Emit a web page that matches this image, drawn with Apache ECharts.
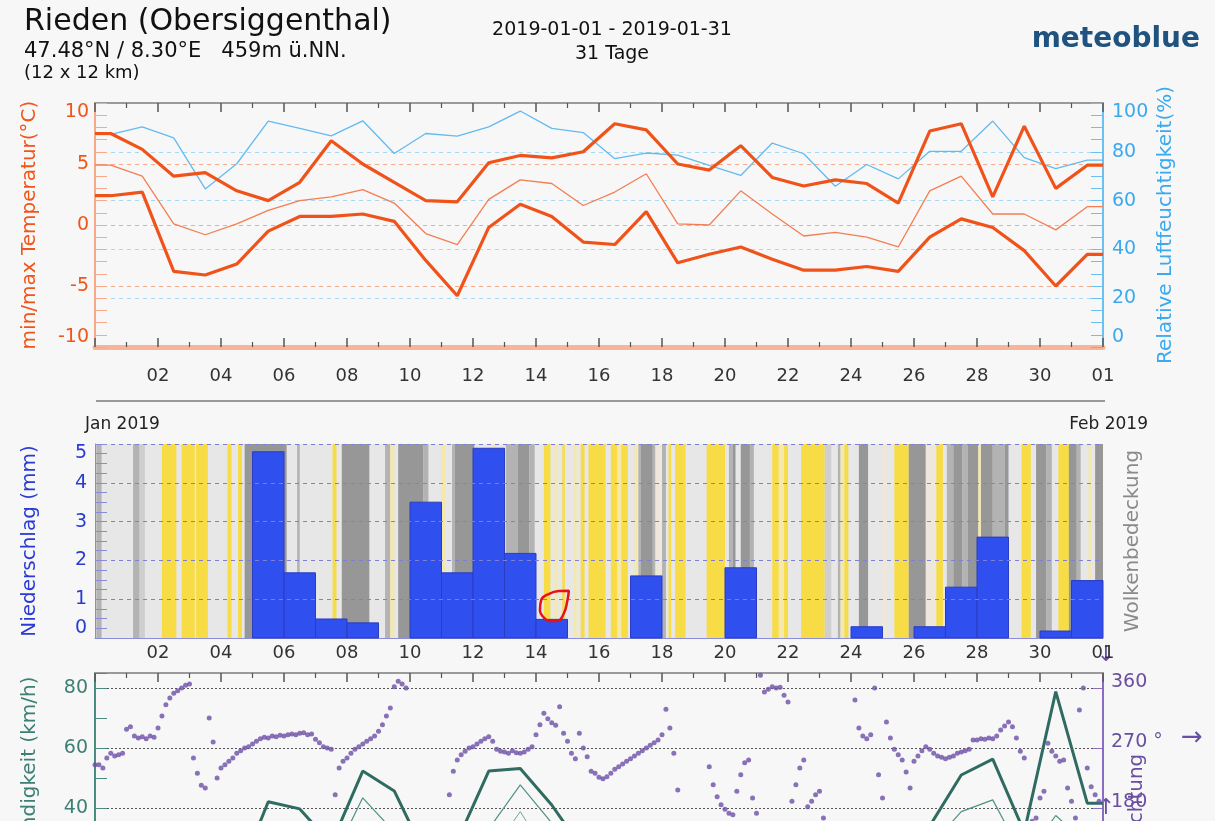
<!DOCTYPE html>
<html><head><meta charset="utf-8">
<script src="https://cdn.jsdelivr.net/npm/echarts@6/dist/echarts.min.js"></script>
<style>html,body{margin:0;padding:0;background:#f7f7f7;} #c{width:1215px;height:821px;}</style>
</head><body><div id="c"></div>
<script>
// ---- data (daily values at noon, 2018-12-31 .. 2019-01-31) ----
const dates = ['2018-12-31','2019-01-01','2019-01-02','2019-01-03','2019-01-04','2019-01-05','2019-01-06','2019-01-07','2019-01-08','2019-01-09','2019-01-10','2019-01-11','2019-01-12','2019-01-13','2019-01-14','2019-01-15','2019-01-16','2019-01-17','2019-01-18','2019-01-19','2019-01-20','2019-01-21','2019-01-22','2019-01-23','2019-01-24','2019-01-25','2019-01-26','2019-01-27','2019-01-28','2019-01-29','2019-01-30','2019-01-31'];
const tempMax  = [7.5,6.2,4.0,4.3,2.8,2.0,3.5,6.9,5.0,3.5,2.0,1.9,5.1,5.7,5.5,6.0,8.3,7.8,5.0,4.5,6.5,3.9,3.2,3.7,3.4,1.8,7.7,8.3,2.3,8.1,3.0,4.9];
const tempMean = [4.9,4.0,0.1,-0.8,0.1,1.2,2.0,2.3,2.9,1.8,-0.7,-1.6,2.1,3.7,3.4,1.6,2.7,4.2,0.1,0.0,2.8,0.9,-0.9,-0.6,-1.0,-1.8,2.8,4.0,0.9,0.9,-0.4,1.5];
const tempMin  = [2.4,2.7,-3.8,-4.1,-3.2,-0.5,0.7,0.7,0.9,0.3,-2.9,-5.8,-0.2,1.7,0.7,-1.4,-1.6,1.1,-3.1,-2.4,-1.8,-2.8,-3.7,-3.7,-3.4,-3.8,-1.0,0.5,-0.2,-2.1,-5.0,-2.4];
const humidity = [87.1,90.2,85.7,64.8,75.1,92.6,89.6,86.5,92.7,79.3,87.5,86.4,90.2,96.7,89.6,87.9,77.2,79.5,78.6,74.4,70.3,83.6,79.2,65.9,74.8,68.9,80.2,80.2,92.6,77.6,73.1,76.6];
const windMax  = [22,24,20,18,16,42.1,39.7,28,52.3,45.7,24,29,52.3,53.2,41,26,24,28,22,26,30,24,20,18,22,26,34,51,56.3,32,78.8,41.6];
const windMean = [14,15,12,11,10,28,26,22,43.4,32,16,20,33,47.7,35,18,16,19,14,17,21,16,13,12,15,18,27,38.8,42.7,23,37.5,28];
const windLow  = [8,9,7,6,5,18,16,12,28,22,9,12,24,38.8,22,10,9,11,8,10,13,9,7,7,9,11,18,28,30,14,26,18];
// daily precipitation 2019-01-01 .. 2019-01-31 (mm)
const precip = [0,0,0,0,4.8,1.68,0.49,0.39,0,3.5,1.68,4.89,2.18,0.48,0,0,1.6,0,0,1.81,0,0,0,0.29,0,0.29,1.31,2.6,0,0.18,1.48];
// 3-hourly wind direction (deg), from 2018-12-31 00:00, 8 values per day
const windDir = [
245,245,240,255,262,258,260,262,
298,302,288,285,287,284,288,286,
300,318,335,345,352,356,360,364,
366,255,232,214,210,315,279,225,
240,245,250,255,262,266,270,272,
276,280,284,286,285,288,287,289,
288,290,291,290,292,293,290,291,
283,278,272,270,268,200,240,250,
255,262,268,272,276,280,284,288,
295,305,318,330,362,370,366,360,
140,130,125,120,120,125,130,135,
145,150,200,235,252,260,265,270,
272,276,280,284,287,280,268,265,
264,262,266,263,262,264,268,272,
290,305,322,314,308,304,332,292,
280,262,254,292,270,257,235,232,
226,224,227,232,238,242,246,250,
254,258,262,266,270,274,278,282,
290,328,300,262,207,150,140,135,
130,130,135,140,242,215,197,185,
178,172,170,205,230,248,252,195,
172,379,354,358,362,360,361,349,
339,190,215,240,252,182,190,200,
205,165,140,130,125,125,130,135,
140,342,300,288,284,290,360,230,
195,309,285,268,260,252,234,210,
250,258,266,272,268,262,258,256,
254,256,258,262,264,266,268,282,
282,284,283,285,284,288,297,303,
309,302,285,265,255,150,160,165,
195,205,277,265,258,250,252,210,
190,165,327,360,240,212,200,190];
// cloud cover / sunshine stripes: [start hour, end hour, class] (hours from 2019-01-01 00:00)
const cloudSegments = [
[-23,-19,'M'],[5,10,'M'],[10,14,'m'],[27,38,'Y'],[42,52,'Y'],[53,62,'Y'],[77,80,'Y'],[85,88,'Y'],
[90,122,'D'],[130,132,'M'],[157,160,'Y'],[164,185,'D'],[197,201,'M'],[201,204,'y'],[207,226,'D'],[226,230,'M'],
[240,243,'y'],[248,250,'M'],[250,265,'D'],[280,282,'y'],[289,298,'M'],[298,307,'D'],[307,311,'M'],
[318,323,'Y'],[326,328,'y'],[332,334,'Y'],[341,343,'y'],[346,349,'Y'],[352,365,'Y'],[369,374,'Y'],[374,377,'y'],[377,382,'Y'],[387,389,'y'],
[390,392,'M'],[392,401,'D'],[401,403,'M'],[403,408,'c'],[408,411,'M'],[413,415,'Y'],[418,426,'Y'],[442,456,'Y'],
[459,462,'M'],[462,464,'D'],[468,475,'D'],[475,478,'M'],[492,497,'Y'],[497,501,'y'],[501,504,'Y'],
[514,532,'Y'],[532,537,'m'],[542,544,'M'],[544,547,'y'],[547,550,'Y'],[558,565,'D'],[575,580,'c'],[585,596,'Y'],
[596,609,'D'],[609,617,'c'],[617,622,'Y'],[625,630,'M'],[630,637,'D'],[637,641,'M'],[641,649,'D'],[649,651,'y'],[651,660,'D'],[660,669,'M'],[669,672,'D'],
[682,689,'Y'],[693,701,'D'],[701,705,'M'],[710,718,'Y'],[718,724,'D'],[724,727,'M'],[733,735,'y'],[738,744,'D']];
// hand-drawn red loop annotation around the 14 Jan bar: [hour, mm]
const annotationLoop = [[321,0.44],[315,0.72],[316,0.98],[322,1.14],[330,1.21],[337,1.22],[336,0.98],[333,0.62],[328,0.44],[321,0.44]];

// ---- helpers ----
const T0 = Date.UTC(2019,0,1);
const noonHours = dates.map(d => { const p = d.split('-').map(Number); return (Date.UTC(p[0],p[1]-1,p[2]) - T0)/3600000 + 12; });
const X_MIN = -24, X_MAX = 744;
function daily(vals){
  const pts = noonHours.map((h,i)=>[h, vals[i]]);
  return [[X_MIN, vals[0]], ...pts, [X_MAX, vals[vals.length-1]]];
}
const dirData = windDir.map((v,i)=>[X_MIN + 3*i, v]);
const precipData = precip.map((v,i)=>[24*i, 24*(i+1), v]);
const cloudColors = {Y:'#f8dc45', y:'#f4e8ad', c:'#ede7dc', m:'#cfcfcf', M:'#b3b3b3', D:'#979797'};
const FONT = 'DejaVu Sans';
const fmtDay = v => { const k = Math.round(v/24); if (k === 31) return '01'; return String(k+1).padStart(2,'0'); };

function xAxisBase(gridIndex, position, extra){
  return Object.assign({
    type:'value', gridIndex, position, min:X_MIN, max:X_MAX, interval:48,
    splitLine:{show:false}
  }, extra);
}
const tickStyle = {show:true, inside:true, length:9, lineStyle:{color:'#555', width:1.5}};
const minorStyle = {show:true, splitNumber:2, length:5, lineStyle:{color:'#555', width:1.2}};

const chart = echarts.init(document.getElementById('c'), null, {renderer:'canvas'});
const option = {
  backgroundColor:'#f7f7f7',
  animation:false,
  textStyle:{fontFamily:FONT},
  grid:[
    {left:95, top:103, width:1008, height:244, outerBoundsMode:'none', containLabel:false},
    {left:95, top:444, width:1008, height:194, show:true, backgroundColor:'#e7e7e7', borderWidth:0, outerBoundsMode:'none', containLabel:false},
    {left:95, top:673, width:1008, height:255, outerBoundsMode:'none', containLabel:false}
  ],
  xAxis:[
    xAxisBase(0,'bottom',{
      axisLine:{onZero:false, lineStyle:{color:'#f8b497', width:5}},
      axisTick:tickStyle, minorTick:minorStyle,
      axisLabel:{margin:20, color:'#333', fontSize:18, fontFamily:FONT, showMinLabel:false, formatter:fmtDay}
    }),
    xAxisBase(0,'top',{
      axisLine:{onZero:false, lineStyle:{color:'#9a9a9a', width:2}},
      axisTick:tickStyle, minorTick:minorStyle,
      axisLabel:{show:false}
    }),
    xAxisBase(1,'bottom',{
      axisLine:{onZero:false, lineStyle:{color:'#8c8cdc', width:1}},
      axisTick:{show:false},
      axisLabel:{margin:6, color:'#333', fontSize:18, fontFamily:FONT, showMinLabel:false, formatter:fmtDay}
    }),
    xAxisBase(2,'top',{
      axisLine:{onZero:false, lineStyle:{color:'#9a9a9a', width:2}},
      axisTick:tickStyle, minorTick:minorStyle,
      axisLabel:{show:false}
    })
  ],
  yAxis:[
    {type:'value', gridIndex:0, position:'left', min:-10, max:10, interval:5,
     axisLine:{show:true, onZero:false, lineStyle:{color:'#f7a989', width:2}},
     axisTick:{show:true, inside:true, length:12, lineStyle:{color:'#f7a989'}},
     minorTick:{show:true, splitNumber:5, length:12, lineStyle:{color:'#f7a989'}},
     axisLabel:{color:'#f0561a', fontSize:19, fontFamily:FONT, margin:6, verticalAlignMinLabel:'bottom', verticalAlignMaxLabel:'top'},
     splitLine:{show:true, showMinLine:false, showMaxLine:false, lineStyle:{color:'#f6ab8c', type:[4,4], width:1}},
     name:'min/max Temperatur(°C)', nameLocation:'middle', nameRotate:90, nameGap:55, nameMoveOverlap:false,
     nameTextStyle:{color:'#f0561a', fontSize:20, fontFamily:FONT}},
    {type:'value', gridIndex:0, position:'right', min:0, max:100, interval:20,
     axisLine:{show:true, onZero:false, lineStyle:{color:'#6cc0f0', width:2}},
     axisTick:{show:true, inside:true, length:12, lineStyle:{color:'#6cc0f0'}},
     minorTick:{show:true, splitNumber:4, length:12, lineStyle:{color:'#6cc0f0'}},
     axisLabel:{color:'#3aa9ee', fontSize:19, fontFamily:FONT, margin:9, verticalAlignMinLabel:'bottom', verticalAlignMaxLabel:'top'},
     splitLine:{show:true, showMinLine:false, showMaxLine:false, lineStyle:{color:'#a6d9f5', type:[4,4], width:1}},
     name:'Relative Luftfeuchtigkeit(%)', nameLocation:'middle', nameRotate:90, nameGap:53, nameMoveOverlap:false,
     nameTextStyle:{color:'#3aa9ee', fontSize:20, fontFamily:FONT}},
    {type:'value', gridIndex:1, position:'left', min:0, max:5, interval:1, z:10,
     axisLine:{show:true, onZero:false, lineStyle:{color:'#8a8ad8', width:1}},
     axisTick:{show:true, inside:true, length:12, lineStyle:{color:'#8a8ad8'}},
     minorTick:{show:true, splitNumber:4, length:12, lineStyle:{color:'#8a8ad8'}},
     axisLabel:{color:'#2a3bd4', fontSize:19, fontFamily:FONT, margin:8, verticalAlignMinLabel:'bottom', verticalAlignMaxLabel:'top'},
     splitLine:{show:true, showMinLine:false, lineStyle:{color:'#7f7fd6', type:[4,4], width:1}},
     name:'Niederschlag (mm)', nameLocation:'middle', nameRotate:90, nameGap:55, nameMoveOverlap:false,
     nameTextStyle:{color:'#2a3bd4', fontSize:20, fontFamily:FONT}},
    {type:'value', gridIndex:1, position:'right', min:0, max:1,
     axisLine:{show:false, onZero:false}, axisTick:{show:false}, axisLabel:{show:false}, splitLine:{show:false},
     name:'Wolkenbedeckung', nameLocation:'middle', nameRotate:90, nameGap:20, nameMoveOverlap:false,
     nameTextStyle:{color:'#8a8a8a', fontSize:20, fontFamily:FONT}},
    {type:'value', gridIndex:2, position:'left', min:0, max:85, interval:20,
     axisLine:{show:true, onZero:false, lineStyle:{color:'#4a8c80', width:2}},
     axisTick:{show:true, inside:true, length:12, lineStyle:{color:'#4a8c80'}},
     minorTick:{show:true, splitNumber:2, length:12, lineStyle:{color:'#4a8c80'}},
     axisLabel:{color:'#3d7f73', fontSize:19, fontFamily:FONT, margin:7, showMaxLabel:false},
     splitLine:{show:true, showMinLine:false, showMaxLine:false, lineStyle:{color:'#555', type:[2,2], width:1}},
     name:'Windgeschwindigkeit (km/h)', nameLocation:'middle', nameRotate:90, nameGap:55, nameMoveOverlap:false,
     nameTextStyle:{color:'#3d7f73', fontSize:20, fontFamily:FONT, padding:[0,36,0,0]}},
    {type:'value', gridIndex:2, position:'right', min:0, max:382.5, interval:90,
     axisLine:{show:true, onZero:false, lineStyle:{color:'#8a6cc0', width:2}},
     axisTick:{show:true, inside:true, length:10, lineStyle:{color:'#8a6cc0'}},
     axisLabel:{color:'#6a4ea0', fontSize:19, fontFamily:FONT, margin:8, showMaxLabel:false,
       verticalAlign:'bottom', lineHeight:12,
       formatter: v => v === 270 ? '270 °' : String(v)},
     splitLine:{show:false},
     name:'Windrichtung', nameLocation:'middle', nameRotate:90, nameGap:24, nameMoveOverlap:false,
     nameTextStyle:{color:'#6a4ea0', fontSize:20, fontFamily:FONT, padding:[0,40,0,0]}}
  ],
  series:[
    {type:'custom', xAxisIndex:2, yAxisIndex:2, z:1, silent:true,
     data: cloudSegments.map(s=>({value:[s[0], s[1]]})),
     encode:{x:[0,1]},
     renderItem:(params, api)=>{
       const seg = cloudSegments[params.dataIndex];
       const p0 = api.coord([api.value(0), 5]);
       const p1 = api.coord([api.value(1), 0]);
       return {type:'rect', shape:{x:p0[0], y:p0[1], width:p1[0]-p0[0], height:p1[1]-p0[1]},
               style:{fill:cloudColors[seg[2]]}};
     }},
    {type:'custom', xAxisIndex:2, yAxisIndex:2, z:3, silent:true,
     data: precipData, encode:{x:[0,1], y:2},
     renderItem:(params, api)=>{
       const v = api.value(2);
       if (!v) return null;
       const p0 = api.coord([api.value(0), v]);
       const p1 = api.coord([api.value(1), 0]);
       return {type:'rect', shape:{x:p0[0], y:p0[1], width:p1[0]-p0[0], height:p1[1]-p0[1]},
               style:{fill:'#2f4fee', stroke:'#2a3cc0', lineWidth:1}};
     }},
    {type:'line', xAxisIndex:2, yAxisIndex:2, z:20, silent:true, data:annotationLoop, smooth:0.5,
     showSymbol:false, lineStyle:{color:'#e8101a', width:2.5}},
    {type:'line', xAxisIndex:0, yAxisIndex:1, z:3, data:daily(humidity), showSymbol:false,
     lineStyle:{color:'#62bbf0', width:1.3}},
    {type:'line', xAxisIndex:0, yAxisIndex:0, z:4, data:daily(tempMean), showSymbol:false,
     lineStyle:{color:'#f47e52', width:1.3}},
    {type:'line', xAxisIndex:0, yAxisIndex:0, z:5, data:daily(tempMax), showSymbol:false,
     lineStyle:{color:'#f0531a', width:3.2}},
    {type:'line', xAxisIndex:0, yAxisIndex:0, z:5, data:daily(tempMin), showSymbol:false,
     lineStyle:{color:'#f0531a', width:3.2}},
    {type:'line', xAxisIndex:3, yAxisIndex:4, z:3, data:daily(windLow), showSymbol:false,
     lineStyle:{color:'#6aa79b', width:1}},
    {type:'line', xAxisIndex:3, yAxisIndex:4, z:3, data:daily(windMean), showSymbol:false,
     lineStyle:{color:'#4f9184', width:1.2}},
    {type:'line', xAxisIndex:3, yAxisIndex:4, z:4, data:daily(windMax), showSymbol:false,
     lineStyle:{color:'#2f6b61', width:3}},
    {type:'scatter', xAxisIndex:3, yAxisIndex:5, z:5, data:dirData, symbolSize:5,
     itemStyle:{color:'#6b4fa6'}}
  ],
  graphic:[
    {type:'text', left:24, top:7, style:{text:'Rieden (Obersiggenthal)', font:'30px "DejaVu Sans"', fill:'#111'}},
    {type:'text', left:24, top:41, style:{text:'47.48°N / 8.30°E   459m ü.NN.', font:'21px "DejaVu Sans"', fill:'#111'}},
    {type:'text', left:24, top:64, style:{text:'(12 x 12 km)', font:'18px "DejaVu Sans"', fill:'#111'}},
    {type:'text', x:612, y:30, style:{text:'2019-01-01 - 2019-01-31', font:'19px "DejaVu Sans"', fill:'#111', textAlign:'center', textVerticalAlign:'middle'}},
    {type:'text', x:612, y:54, style:{text:'31 Tage', font:'19px "DejaVu Sans"', fill:'#111', textAlign:'center', textVerticalAlign:'middle'}},
    {type:'text', x:1200, y:40, style:{text:'meteoblue', font:'bold 28px "DejaVu Sans"', fill:'#1f527f', textAlign:'right', textVerticalAlign:'middle'}},
    {type:'line', shape:{x1:96, y1:401, x2:1105, y2:401}, style:{stroke:'#999', lineWidth:2}},
    {type:'text', x:85, y:425, style:{text:'Jan 2019', font:'17px "DejaVu Sans"', fill:'#222', textAlign:'left', textVerticalAlign:'middle'}},
    {type:'text', x:1148, y:425, style:{text:'Feb 2019', font:'17px "DejaVu Sans"', fill:'#222', textAlign:'right', textVerticalAlign:'middle'}},
    {type:'text', x:1106, y:655, style:{text:'↓', font:'22px "DejaVu Sans"', fill:'#6b4fa6', textAlign:'center', textVerticalAlign:'middle'}},
    {type:'text', x:1192, y:738, style:{text:'→', font:'26px "DejaVu Sans"', fill:'#6b4fa6', textAlign:'center', textVerticalAlign:'middle'}},
    {type:'text', x:1106, y:808, style:{text:'↑', font:'22px "DejaVu Sans"', fill:'#6b4fa6', textAlign:'center', textVerticalAlign:'middle'}}
  ]
};
chart.setOption(option);
</script></body></html>
